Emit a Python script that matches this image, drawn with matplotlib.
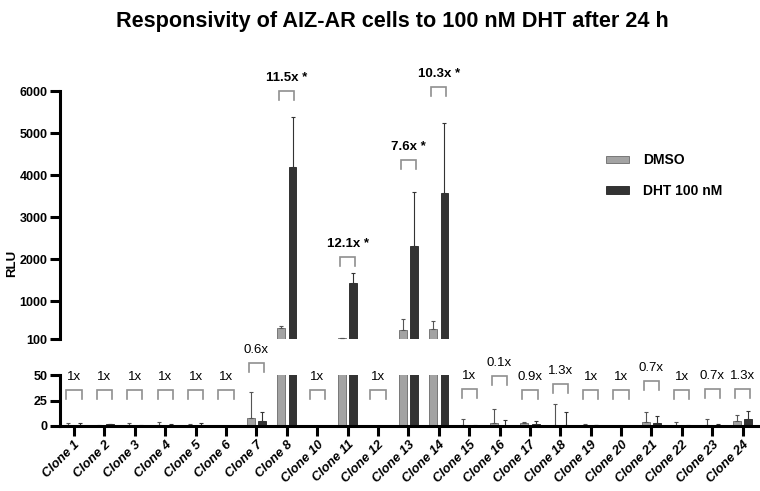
import numpy as np
import matplotlib
matplotlib.use('Agg')
import matplotlib.pyplot as plt
from matplotlib.patches import Patch

plt.rcParams['font.family'] = ['Liberation Sans', 'DejaVu Sans']

# data (RLU, mean and upper SD)
clones = ['Clone 1', 'Clone 2', 'Clone 3', 'Clone 4', 'Clone 5', 'Clone 6', 'Clone 7',
          'Clone 8', 'Clone 10', 'Clone 11', 'Clone 12', 'Clone 13', 'Clone 14',
          'Clone 15', 'Clone 16', 'Clone 17', 'Clone 18', 'Clone 19', 'Clone 20',
          'Clone 21', 'Clone 22', 'Clone 23', 'Clone 24']
dmso = [0.5, 0.3, 0.5, 0.5, 0.5, 0.2, 8, 360, 0.2, 118, 0.2, 305, 347,
        0.5, 3, 3, 0.5, 0.5, 0.2, 4, 0.4, 1, 5]
dmso_err = [2, 0.2, 2, 3.5, 1.5, 0.2, 25, 50, 0.2, 5, 0.2, 270, 180,
            6.5, 14, 1, 21, 1, 0.2, 10, 3.5, 6, 6]
dht = [0.5, 1.5, 0.3, 1, 0.5, 0.2, 5, 4200, 0.2, 1430, 0.2, 2320, 3580,
       0.3, 0.3, 2, 1, 0.5, 0.2, 3, 0.4, 0.7, 7]
dht_err = [2, 0.3, 0.3, 1, 2, 0.2, 9, 1190, 0.2, 240, 0.2, 1280, 1660,
           0.7, 6, 3, 13, 0.3, 0.2, 7, 0.3, 1, 8]

fold_labels = ['1x', '1x', '1x', '1x', '1x', '1x', '0.6x', '11.5x *', '1x', '12.1x *', '1x',
               '7.6x *', '10.3x *', '1x', '0.1x', '0.9x', '1.3x', '1x', '1x', '0.7x',
               '1x', '0.7x', '1.3x']
# bracket height; values > 100 belong to the upper (broken) axis
bracket_y = [35, 35, 35, 35, 35, 35, 62, 6000, 35, 2060, 35, 4360, 6100,
             36, 49, 35, 41, 35, 35, 44, 35, 36, 36]

c_dmso = '#a3a3a3'
c_dht = '#333333'

fig = plt.figure(figsize=(7.6, 4.91), dpi=100)
left, right = 60 / 760, 1.0
ax_top = fig.add_axes([left, 1 - 339 / 491, right - left, (339 - 91) / 491])
ax_bot = fig.add_axes([left, 1 - 426 / 491, right - left, (426 - 375) / 491])

x = np.arange(len(clones))
w = 0.26
off = 0.19

for ax in (ax_top, ax_bot):
    ax.bar(x - off, dmso, w, color=c_dmso, edgecolor='#6a6a6a', linewidth=0.6)
    ax.bar(x + off, dht, w, color=c_dht, edgecolor='#222222', linewidth=0.6)
    ax.errorbar(x - off, dmso, yerr=[np.zeros(len(x)), dmso_err], fmt='none',
                ecolor='#555555', elinewidth=0.8, capsize=1.5, capthick=0.8)
    ax.errorbar(x + off, dht, yerr=[np.zeros(len(x)), dht_err], fmt='none',
                ecolor='#333333', elinewidth=0.8, capsize=1.5, capthick=0.8)
    ax.set_xlim(-0.46, 22.57)
    for s in ('top', 'right'):
        ax.spines[s].set_visible(False)
    ax.spines['left'].set_linewidth(2.2)
    ax.tick_params(axis='y', width=2.2, length=7, labelsize=9, pad=2)

ax_top.set_ylim(100, 6000)
ax_top.set_yticks([100, 1000, 2000, 3000, 4000, 5000, 6000])
ax_top.spines['bottom'].set_visible(False)
ax_top.set_xticks([])

ax_bot.set_ylim(0, 50)
ax_bot.set_yticks([0, 25, 50])
ax_bot.spines['bottom'].set_linewidth(2.2)
ax_bot.set_xticks(x)
ax_bot.set_xticklabels(clones, rotation=45, ha='right', rotation_mode='anchor',
                       fontsize=9.3, fontweight='bold', fontstyle='italic')
ax_bot.tick_params(axis='x', width=2.2, length=7, pad=2)

for ax in (ax_top, ax_bot):
    for t in ax.get_yticklabels():
        t.set_fontweight('bold')

# fold-change brackets
fig.canvas.draw()
for i, (lab, by) in enumerate(zip(fold_labels, bracket_y)):
    ax = ax_top if by > 100 else ax_bot
    y0, y1 = ax.get_ylim()
    upp = (y1 - y0) / ax.get_window_extent().height
    leg = 9 * upp
    ax.plot([i - 0.25, i - 0.25, i + 0.25, i + 0.25], [by - leg, by, by, by - leg],
            color='#8f8f8f', lw=1.2, clip_on=False, solid_joinstyle='miter')
    bold = '*' in lab
    ax.annotate(lab, (i, by), xytext=(0, 5), textcoords='offset points',
                ha='center', va='bottom', fontsize=9.5,
                fontweight='bold' if bold else 'normal', annotation_clip=False)

fig.text(12 / 760, 1 - 263 / 491, 'RLU', rotation=90, ha='center', va='center',
         fontsize=9.5, fontweight='bold')
fig.text(392 / 760, 1 - 21 / 491, 'Responsivity of AIZ-AR cells to 100 nM DHT after 24 h',
         ha='center', va='center', fontsize=15.6, fontweight='bold')

handles = [Patch(facecolor=c_dmso, edgecolor='#6a6a6a', linewidth=0.6),
           Patch(facecolor=c_dht, edgecolor='#222222', linewidth=0.6)]
fig.legend(handles, ['DMSO', 'DHT 100 nM'], loc='upper left',
           bbox_to_anchor=(593 / 760, 1 - 141 / 491), frameon=False,
           handlelength=1.7, handleheight=0.45, labelspacing=1.2, handletextpad=1.0,
           prop={'weight': 'bold', 'size': 10})

fig.savefig('out.png', dpi=100)
